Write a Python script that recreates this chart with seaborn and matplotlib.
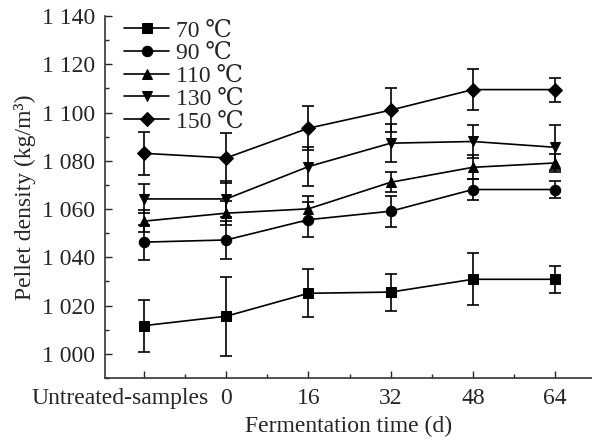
import matplotlib
matplotlib.use("Agg")
import matplotlib.pyplot as plt
import matplotlib.transforms as mtrans
from matplotlib.ticker import MultipleLocator
import numpy as np
import pandas as pd
import seaborn as sns

# 数据
x_labels = ["Untreated-samples", "0", "16", "32", "48", "64"]
temps = ["70 ℃", "90 ℃", "110 ℃", "130 ℃", "150 ℃"]
markers = ["s", "o", "^", "v", "D"]

d70 = [1011.7, 1015.6, 1025.1, 1025.6, 1030.9, 1030.9]
d90 = [1046.3, 1047.2, 1055.6, 1059.1, 1068.1, 1068.1]
d110 = [1055.0, 1058.3, 1060.1, 1071.1, 1077.3, 1079.1]
d130 = [1064.2, 1064.2, 1077.6, 1087.3, 1088.0, 1085.6]
d150 = [1083.1, 1081.2, 1093.5, 1101.0, 1109.5, 1109.5]

e70 = [10.8, 16.3, 10.0, 7.7, 10.8, 5.5]
e90 = [7.2, 8.0, 7.3, 6.4, 4.3, 3.5]
e110 = [4.5, 5.0, 5.5, 4.2, 5.0, 3.8]
e130 = [6.0, 7.5, 8.0, 8.0, 7.0, 9.3]
e150 = [9.0, 10.3, 9.0, 9.0, 8.5, 5.0]

y_ticks = [1000, 1020, 1040, 1060, 1080, 1100, 1120, 1140]

sns.set_style("ticks")
plt.rcParams['font.family'] = ['Liberation Serif', 'DejaVu Serif', 'DejaVu Sans']
plt.rcParams['font.size'] = 17
plt.rcParams['xtick.direction'] = 'in'
plt.rcParams['ytick.direction'] = 'in'

means = [d70, d90, d110, d130, d150]
errs = [e70, e90, e110, e130, e150]
xpos = np.arange(len(x_labels))

df = pd.DataFrame({
    "x": np.tile(xpos, len(temps)),
    "density": np.concatenate(means),
    "temp": np.repeat(temps, len(xpos)),
})

fig = plt.figure(figsize=(5.92, 4.42), dpi=100)
ax = fig.add_axes([0.1774, 0.1448, 0.8226, 0.8190])

sns.lineplot(data=df, x="x", y="density", hue="temp", style="temp",
             palette=["black"] * len(temps), markers=markers, dashes=False,
             markersize=7.5, linewidth=1.2, markeredgecolor="black", ax=ax)

for m, e in zip(means, errs):
    ax.errorbar(xpos, m, yerr=e, fmt="none", ecolor="black", elinewidth=1.2,
                capsize=4, capthick=1.2, zorder=1)

ax.set_xlim(-0.475, 5.45)
ax.set_ylim(990, 1140)
ax.set_xticks(xpos)
ax.set_xticklabels(x_labels)
ax.xaxis.set_minor_locator(MultipleLocator(0.5))
ax.set_yticks(y_ticks)
ax.set_yticklabels([f"{v:,}".replace(",", " ") for v in y_ticks])
ax.yaxis.set_minor_locator(MultipleLocator(10))
ax.tick_params(which="major", length=5, width=1, labelsize=17, pad=7)
ax.tick_params(which="minor", length=3, width=1)
sns.despine(ax=ax)
for s in ["left", "bottom"]:
    ax.spines[s].set_linewidth(1.2)
    ax.spines[s].set_color("#333333")

# 第一个标签左移
lab0 = ax.get_xticklabels()[0]
lab0.set_transform(lab0.get_transform() + mtrans.ScaledTranslation(-0.24, 0, fig.dpi_scale_trans))

ax.set_xlabel("Fermentation time (d)", fontsize=17, labelpad=5)
ax.set_ylabel("Pellet density (kg/m³)", fontsize=17, labelpad=4)

ax.legend(loc="upper left", frameon=False, fontsize=17, handlelength=1.9,
          handletextpad=0.3, labelspacing=0.05, borderaxespad=0.0,
          bbox_to_anchor=(0.02, 1.015))

fig.savefig("out.png", dpi=100)
